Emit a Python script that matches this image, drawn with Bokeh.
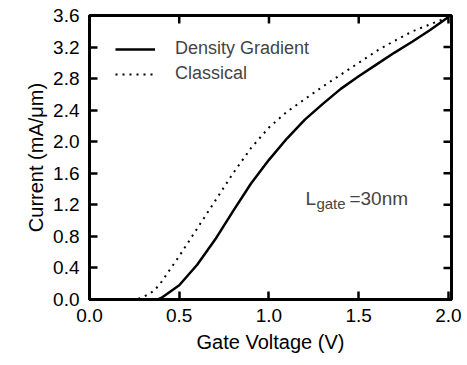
from bokeh.plotting import figure
from bokeh.models import LinearAxis, Range1d, Legend, LegendItem, Label, FixedTicker, NumeralTickFormatter
from bokeh.embed import file_html
from bokeh.resources import INLINE

# Data
voltage = [0.0, 0.1, 0.2, 0.3, 0.38, 0.4, 0.5, 0.6, 0.7, 0.8, 0.9, 1.0, 1.1, 1.2, 1.3, 1.4, 1.5, 1.6, 1.7, 1.8, 1.9, 2.0]
density_gradient = [0.0, 0.0, 0.0, 0.0, 0.0, 0.02, 0.18, 0.44, 0.76, 1.12, 1.47, 1.77, 2.04, 2.28, 2.48, 2.67, 2.83, 2.98, 3.13, 3.27, 3.42, 3.58]
voltage_cl = [0.0, 0.1, 0.2, 0.26, 0.3, 0.36, 0.4, 0.5, 0.6, 0.7, 0.8, 0.9, 1.0, 1.1, 1.2, 1.3, 1.4, 1.5, 1.6, 1.7, 1.8, 1.9, 2.0]
classical = [0.0, 0.0, 0.0, 0.0, 0.03, 0.11, 0.22, 0.55, 0.9, 1.25, 1.6, 1.92, 2.18, 2.38, 2.54, 2.70, 2.85, 3.00, 3.15, 3.28, 3.40, 3.49, 3.58]

x_ticks = [0.0, 0.5, 1.0, 1.5, 2.0]
y_ticks = [0.0, 0.4, 0.8, 1.2, 1.6, 2.0, 2.4, 2.8, 3.2, 3.6]
x_min, x_max = 0.0, 2.017
y_min, y_max = 0.0, 3.6
x_title = "Gate Voltage (V)"
y_title = "Current (mA/\u03bcm)"
series_names = ["Density Gradient", "Classical"]

FONT = "Liberation Sans"
W, H = 467, 365
B_LEFT, B_RIGHT, B_TOP, B_BOTTOM = 89, 16, 15, 66
TICK = 8

p = figure(width=W, height=H, output_backend="svg", toolbar_location=None,
           x_range=Range1d(x_min, x_max), y_range=Range1d(y_min, y_max),
           min_border_left=B_LEFT, min_border_right=B_RIGHT,
           min_border_top=B_TOP, min_border_bottom=B_BOTTOM,
           x_axis_location=None, y_axis_location=None)
p.grid.visible = False
p.outline_line_color = "black"
p.outline_line_width = 3
p.background_fill_color = "white"
p.border_fill_color = "white"

def style_axis(ax):
    ax.axis_line_width = 3
    ax.axis_line_color = "black"
    ax.major_tick_in = TICK
    ax.major_tick_out = 0
    ax.major_tick_line_width = 2.5
    ax.major_tick_line_color = "black"
    ax.minor_tick_line_color = None
    ax.major_label_text_font = FONT
    ax.major_label_text_font_size = "19px"
    ax.major_label_text_color = "black"
    ax.axis_label_text_font = FONT
    ax.axis_label_text_font_size = "20px"
    ax.axis_label_text_font_style = "normal"
    ax.axis_label_text_color = "black"
    ax.formatter = NumeralTickFormatter(format="0.0")

xb = LinearAxis(ticker=FixedTicker(ticks=x_ticks), axis_label=x_title)
style_axis(xb)
xb.major_label_standoff = 9
xb.axis_label_standoff = 6
yl = LinearAxis(ticker=FixedTicker(ticks=y_ticks), axis_label=y_title)
style_axis(yl)
yl.major_label_standoff = 10
yl.axis_label_standoff = 3
p.add_layout(xb, "below")
p.add_layout(yl, "left")

# inward ticks on the top and right edges, derived from the tick lists
frame_w = W - B_LEFT - B_RIGHT
frame_h = H - B_TOP - B_BOTTOM
dx = TICK * (x_max - x_min) / frame_w
dy = TICK * (y_max - y_min) / frame_h
p.segment(x0=x_ticks, y0=[y_max] * len(x_ticks), x1=x_ticks, y1=[y_max - dy] * len(x_ticks),
          line_color="black", line_width=2.5)
p.segment(x0=[x_max] * len(y_ticks), y0=y_ticks, x1=[x_max - dx] * len(y_ticks), y1=y_ticks,
          line_color="black", line_width=2.5)

r1 = p.line(voltage, density_gradient, line_color="black", line_width=2.5)
r2 = p.line(voltage_cl, classical, line_color="black", line_width=2, line_dash="2 5")

legend = Legend(items=[LegendItem(label=series_names[0], renderers=[r1]),
                       LegendItem(label=series_names[1], renderers=[r2])],
                location=(26, 215), margin=0, padding=0, spacing=4,
                glyph_width=40, glyph_height=20, label_standoff=20,
                label_text_font=FONT, label_text_font_size="18px",
                label_height=20,
                border_line_color=None, background_fill_alpha=0)
p.add_layout(legend)

# annotation L_gate = 30 nm
ann_x, ann_y = 1.203, 1.28
p.add_layout(Label(x=ann_x, y=ann_y, text="L", text_font=FONT, text_font_size="19px",
                   text_baseline="alphabetic"))
p.add_layout(Label(x=ann_x, y=ann_y, x_offset=11, y_offset=-5, text="gate", text_font=FONT,
                   text_font_size="15px", text_baseline="alphabetic"))
p.add_layout(Label(x=ann_x, y=ann_y, x_offset=44, text="=30nm", text_font=FONT,
                   text_font_size="19px", text_baseline="alphabetic"))

open("out.html", "w").write(file_html(p, INLINE))
